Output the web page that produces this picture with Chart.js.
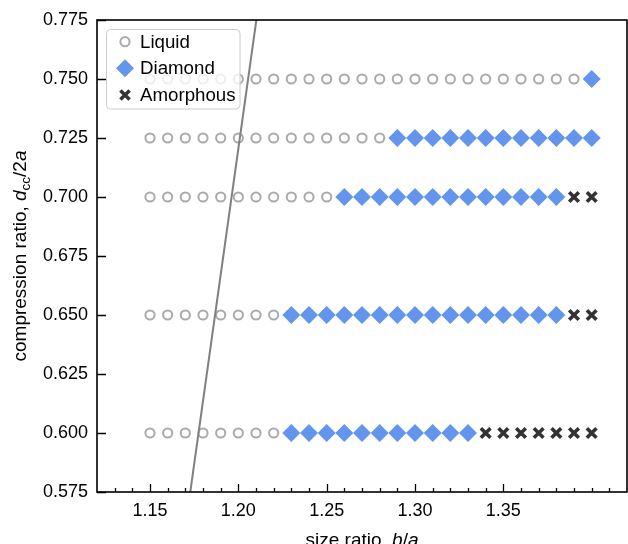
<!DOCTYPE html>
<html>
<head>
<meta charset="utf-8">
<script src="https://cdn.jsdelivr.net/npm/chart.js@4/dist/chart.umd.min.js"></script>
<style>
  html, body { margin: 0; padding: 0; background: #ffffff; }
  #wrap { width: 628px; height: 544px; }
</style>
</head>
<body>
<div id="wrap"><canvas id="c" width="628" height="544"></canvas></div>
<script>
// ---- data ----
const sizeRatios = [1.15, 1.16, 1.17, 1.18, 1.19, 1.20, 1.21, 1.22, 1.23, 1.24, 1.25, 1.26, 1.27,
                    1.28, 1.29, 1.30, 1.31, 1.32, 1.33, 1.34, 1.35, 1.36, 1.37, 1.38, 1.39, 1.40];
const compressionRatios = [0.600, 0.650, 0.700, 0.725, 0.750];
// phase per size ratio: L = Liquid, D = Diamond, A = Amorphous
const phaseRow0600 = 'LLLLLLLLDDDDDDDDDDDAAAAAAA';
const phaseRow0650 = 'LLLLLLLLDDDDDDDDDDDDDDDDAA';
const phaseRow0700 = 'LLLLLLLLLLLDDDDDDDDDDDDDAA';
const phaseRow0725 = 'LLLLLLLLLLLLLLDDDDDDDDDDDD';
const phaseRow0750 = 'LLLLLLLLLLLLLLLLLLLLLLLLLD';
const phaseRows = [phaseRow0600, phaseRow0650, phaseRow0700, phaseRow0725, phaseRow0750];

const boundaryX = [1.1728, 1.2102];
const boundaryY = [0.575, 0.775];

const xTickLabels = [1.15, 1.20, 1.25, 1.30, 1.35];
const xMinorTicks = [1.13, 1.14, 1.16, 1.17, 1.18, 1.19, 1.21, 1.22, 1.23, 1.24, 1.26, 1.27, 1.28,
                     1.29, 1.31, 1.32, 1.33, 1.34, 1.36, 1.37, 1.38, 1.39, 1.40, 1.41];
const yTickLabels = [0.575, 0.600, 0.625, 0.650, 0.675, 0.700, 0.725, 0.750, 0.775];
const seriesNames = ['Liquid', 'Diamond', 'Amorphous'];

// ---- build point lists ----
function pointsFor(code) {
  const pts = [];
  phaseRows.forEach((row, r) => {
    row.split('').forEach((c, i) => {
      if (c === code) pts.push({ x: sizeRatios[i], y: compressionRatios[r] });
    });
  });
  return pts;
}

const FONT = "'Liberation Sans', Arial, Helvetica, sans-serif";
const FS = 18;
const FS_LEG = 18.7;
const FS_TITLE = 19;
const C_LIQ = '#aaaaaa', C_DIA = '#6495ED', C_AMO = '#333333';

const overlay = {
  id: 'overlay',
  afterDatasetsDraw(chart) {
    const ctx = chart.ctx;
    const a = chart.chartArea;
    const xs = chart.scales.x, ys = chart.scales.y;
    ctx.save();
    // ticks (inward)
    ctx.strokeStyle = '#000';
    ctx.lineWidth = 1.3;
    ctx.beginPath();
    xTickLabels.forEach(v => {
      const px = Math.round(xs.getPixelForValue(v)) + 0.5;
      ctx.moveTo(px, a.bottom); ctx.lineTo(px, a.bottom - 8);
    });
    xMinorTicks.forEach(v => {
      const px = Math.round(xs.getPixelForValue(v)) + 0.5;
      ctx.moveTo(px, a.bottom); ctx.lineTo(px, a.bottom - 4);
    });
    yTickLabels.forEach(v => {
      const py = Math.round(ys.getPixelForValue(v)) + 0.5;
      ctx.moveTo(a.left, py); ctx.lineTo(a.left + 9, py);
    });
    ctx.stroke();
    // frame
    ctx.lineWidth = 1.6;
    ctx.strokeRect(a.left, a.top, a.right - a.left, a.bottom - a.top);

    // legend
    const lx = 106.5, ly = 29.5, lw = 133.5, lh = 79.5, rr = 4;
    ctx.beginPath();
    ctx.moveTo(lx + rr, ly);
    ctx.lineTo(lx + lw - rr, ly); ctx.quadraticCurveTo(lx + lw, ly, lx + lw, ly + rr);
    ctx.lineTo(lx + lw, ly + lh - rr); ctx.quadraticCurveTo(lx + lw, ly + lh, lx + lw - rr, ly + lh);
    ctx.lineTo(lx + rr, ly + lh); ctx.quadraticCurveTo(lx, ly + lh, lx, ly + lh - rr);
    ctx.lineTo(lx, ly + rr); ctx.quadraticCurveTo(lx, ly, lx + rr, ly);
    ctx.closePath();
    ctx.fillStyle = 'rgba(255,255,255,0.8)';
    ctx.fill();
    ctx.strokeStyle = '#cccccc';
    ctx.lineWidth = 1;
    ctx.stroke();

    const mx = 125;
    const rowsY = [41.7, 68.3, 95];
    // liquid marker
    ctx.beginPath();
    ctx.arc(mx, rowsY[0], 4.6, 0, Math.PI * 2);
    ctx.strokeStyle = C_LIQ; ctx.lineWidth = 2; ctx.stroke();
    // diamond marker
    ctx.beginPath();
    ctx.moveTo(mx, rowsY[1] - 9); ctx.lineTo(mx + 9, rowsY[1]);
    ctx.lineTo(mx, rowsY[1] + 9); ctx.lineTo(mx - 9, rowsY[1]); ctx.closePath();
    ctx.fillStyle = C_DIA; ctx.fill();
    // amorphous marker
    ctx.beginPath();
    const d = 4.6;
    ctx.moveTo(mx - d, rowsY[2] - d); ctx.lineTo(mx + d, rowsY[2] + d);
    ctx.moveTo(mx + d, rowsY[2] - d); ctx.lineTo(mx - d, rowsY[2] + d);
    ctx.strokeStyle = C_AMO; ctx.lineWidth = 3.5; ctx.stroke();

    ctx.fillStyle = '#000';
    ctx.font = FS_LEG + 'px ' + FONT;
    ctx.textBaseline = 'middle';
    ctx.textAlign = 'left';
    seriesNames.forEach((n, i) => ctx.fillText(n, 140, rowsY[i] + 1));

    // axis titles
    function drawRich(segs, cx, cy, rot) {
      ctx.save();
      ctx.translate(cx, cy);
      ctx.rotate(rot);
      ctx.textBaseline = 'alphabetic';
      ctx.textAlign = 'left';
      let total = 0;
      segs.forEach(s => { ctx.font = s.f; s.w = ctx.measureText(s.t).width; total += s.w; });
      let x = -total / 2;
      segs.forEach(s => { ctx.font = s.f; ctx.fillText(s.t, x, s.dy || 0); x += s.w; });
      ctx.restore();
    }
    ctx.fillStyle = '#000';
    const reg = FS_TITLE + 'px ' + FONT, ital = 'italic ' + FS_TITLE + 'px ' + FONT, sub = '13.5px ' + FONT;
    drawRich([{ t: 'size ratio, ', f: reg }, { t: 'b', f: ital }, { t: '/', f: reg }, { t: 'a', f: ital }],
      (a.left + a.right) / 2, 546, 0);
    drawRich([{ t: 'compression ratio, ', f: reg }, { t: 'd', f: ital }, { t: 'cc', f: sub, dy: 4 },
              { t: '/2', f: reg }, { t: 'a', f: ital }],
      26, (a.top + a.bottom) / 2, -Math.PI / 2);
    ctx.restore();
  }
};

new Chart(document.getElementById('c'), {
  type: 'scatter',
  data: {
    datasets: [
      {
        type: 'line', label: 'boundary', order: 0,
        data: boundaryX.map((x, i) => ({ x: x, y: boundaryY[i] })),
        borderColor: '#808080', borderWidth: 2, pointRadius: 0, showLine: true, fill: false
      },
      {
        label: seriesNames[0], order: 1, data: pointsFor('L'),
        pointStyle: 'circle', pointRadius: 4.6, pointBorderWidth: 2,
        pointBorderColor: C_LIQ, pointBackgroundColor: 'rgba(0,0,0,0)', borderColor: C_LIQ, backgroundColor: 'rgba(0,0,0,0)'
      },
      {
        label: seriesNames[1], order: 1, data: pointsFor('D'),
        pointStyle: 'rectRot', pointRadius: 9, pointBorderWidth: 0,
        pointBackgroundColor: C_DIA, backgroundColor: C_DIA, borderColor: C_DIA
      },
      {
        label: seriesNames[2], order: 1, data: pointsFor('A'),
        pointStyle: 'crossRot', pointRadius: 6.8, pointBorderWidth: 3.6,
        pointBorderColor: C_AMO, borderColor: C_AMO, backgroundColor: C_AMO
      }
    ]
  },
  options: {
    responsive: false,
    devicePixelRatio: 1,
    animation: false,
    events: [],
    layout: { autoPadding: false, padding: { left: 0, right: 1, top: 20, bottom: 0 } },
    plugins: { legend: { display: false }, tooltip: { enabled: false } },
    scales: {
      x: {
        type: 'linear', min: 1.12, max: 1.42,
        afterBuildTicks: s => { s.ticks = xTickLabels.map(v => ({ value: v })); },
        afterFit: s => { s.height = 52; s.paddingLeft = 0; s.paddingRight = 0; },
        ticks: { callback: v => Number(v).toFixed(2), font: { family: FONT, size: FS }, color: '#000', padding: 8, maxRotation: 0, autoSkip: false },
        grid: { display: false, drawTicks: false, drawOnChartArea: false },
        border: { display: false }
      },
      y: {
        type: 'linear', min: 0.575, max: 0.775,
        afterBuildTicks: s => { s.ticks = yTickLabels.map(v => ({ value: v })); },
        afterFit: s => { s.width = 97; },
        ticks: { callback: v => Number(v).toFixed(3), font: { family: FONT, size: FS }, color: '#000', padding: 9, autoSkip: false },
        grid: { display: false, drawTicks: false, drawOnChartArea: false },
        border: { display: false }
      }
    }
  },
  plugins: [overlay]
});
</script>
</body>
</html>
